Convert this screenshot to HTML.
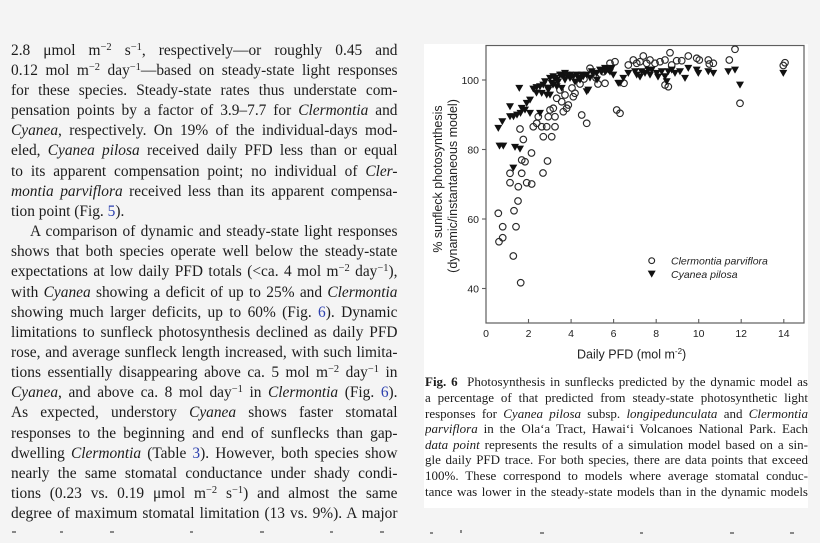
<!DOCTYPE html>
<html><head><meta charset="utf-8">
<style>
html,body{margin:0;padding:0;}
body{width:820px;height:543px;background:#f4f4f4;position:relative;overflow:hidden;font-family:"Liberation Serif",serif;color:#1c1c1c;}
.l{position:absolute;left:11px;width:386.5px;font-size:15.4px;line-height:20px;height:20px;overflow:hidden;text-align:justify;text-align-last:justify;}
.c{position:absolute;left:425px;width:383px;font-size:13px;line-height:15px;height:15px;overflow:hidden;text-align:justify;text-align-last:justify;}
sup{font-size:0.68em;vertical-align:0.48em;line-height:0;}
.b{color:#2b3fae;}
#panel{position:absolute;left:424px;top:44px;width:384px;height:464px;background:#fff;}
svg{position:absolute;left:0;top:0;}
.frag{position:absolute;height:2px;background:#888;}
</style></head><body>
<div id="panel"></div>

<div class="l" style="top:40.7px">2.8 μmol m<sup>−2</sup> s<sup>−1</sup>, respectively—or roughly 0.45 and</div>
<div class="l" style="top:60.85px">0.12 mol m<sup>−2</sup> day<sup>−1</sup>—based on steady-state light responses</div>
<div class="l" style="top:81px">for these species. Steady-state rates thus understate com-</div>
<div class="l" style="top:101.15px">pensation points by a factor of 3.9–7.7 for <i>Clermontia</i> and</div>
<div class="l" style="top:121.3px"><i>Cyanea</i>, respectively. On 19% of the individual-days mod-</div>
<div class="l" style="top:141.45px">eled, <i>Cyanea pilosa</i> received daily PFD less than or equal</div>
<div class="l" style="top:161.6px">to its apparent compensation point; no individual of <i>Cler-</i></div>
<div class="l" style="top:181.75px"><i>montia parviflora</i> received less than its apparent compensa-</div>
<div class="l" style="top:201.9px;text-align:left;text-align-last:left">tion point (Fig. <span class="b">5</span>).</div>
<div class="l" style="top:222.05px;left:30px;width:367.5px">A comparison of dynamic and steady-state light responses</div>
<div class="l" style="top:242.2px">shows that both species operate well below the steady-state</div>
<div class="l" style="top:262.35px">expectations at low daily PFD totals (&lt;ca. 4 mol m<sup>−2</sup> day<sup>−1</sup>),</div>
<div class="l" style="top:282.5px">with <i>Cyanea</i> showing a deficit of up to 25% and <i>Clermontia</i></div>
<div class="l" style="top:302.65px">showing much larger deficits, up to 60% (Fig. <span class="b">6</span>). Dynamic</div>
<div class="l" style="top:322.8px">limitations to sunfleck photosynthesis declined as daily PFD</div>
<div class="l" style="top:342.95px">rose, and average sunfleck length increased, with such limita-</div>
<div class="l" style="top:363.1px">tions essentially disappearing above ca. 5 mol m<sup>−2</sup> day<sup>−1</sup> in</div>
<div class="l" style="top:383.25px"><i>Cyanea</i>, and above ca. 8 mol day<sup>−1</sup> in <i>Clermontia</i> (Fig. <span class="b">6</span>).</div>
<div class="l" style="top:403.4px">As expected, understory <i>Cyanea</i> shows faster stomatal</div>
<div class="l" style="top:423.55px">responses to the beginning and end of sunflecks than gap-</div>
<div class="l" style="top:443.7px">dwelling <i>Clermontia</i> (Table <span class="b">3</span>). However, both species show</div>
<div class="l" style="top:463.85px">nearly the same stomatal conductance under shady condi-</div>
<div class="l" style="top:484px">tions (0.23 vs. 0.19 μmol m<sup>−2</sup> s<sup>−1</sup>) and almost the same</div>
<div class="l" style="top:504.15px">degree of maximum stomatal limitation (13 vs. 9%). A major</div>

<div class="frag" style="left:12px;top:531px;width:4px"></div>
<div class="frag" style="left:60px;top:531px;width:3px"></div>
<div class="frag" style="left:110px;top:531px;width:4px"></div>
<div class="frag" style="left:190px;top:531px;width:3px"></div>
<div class="frag" style="left:260px;top:531px;width:4px"></div>
<div class="frag" style="left:330px;top:531px;width:3px"></div>
<div class="frag" style="left:380px;top:531px;width:4px"></div>
<div class="frag" style="left:430px;top:532px;width:3px"></div>
<div class="frag" style="left:460px;top:530px;width:2px;height:3px"></div>
<div class="frag" style="left:540px;top:532px;width:4px"></div>
<div class="frag" style="left:640px;top:532px;width:3px"></div>
<div class="frag" style="left:730px;top:532px;width:4px"></div>
<div class="frag" style="left:790px;top:532px;width:4px"></div>

<div class="c" style="top:374.3px"><b>Fig. 6</b>&nbsp; Photosynthesis in sunflecks predicted by the dynamic model as</div>
<div class="c" style="top:389.9px">a percentage of that predicted from steady-state photosynthetic light</div>
<div class="c" style="top:405.6px">responses for <i>Cyanea pilosa</i> subsp. <i>longipedunculata</i> and <i>Clermontia</i></div>
<div class="c" style="top:421.2px"><i>parviflora</i> in the Ola‘a Tract, Hawai‘i Volcanoes National Park. Each</div>
<div class="c" style="top:436.8px"><i>data point</i> represents the results of a simulation model based on a sin-</div>
<div class="c" style="top:452.4px">gle daily PFD trace. For both species, there are data points that exceed</div>
<div class="c" style="top:468.1px">100%. These correspond to models where average stomatal conduc-</div>
<div class="c" style="top:483.7px">tance was lower in the steady-state models than in the dynamic models</div>

<svg width="820" height="543" viewBox="0 0 820 543" xmlns="http://www.w3.org/2000/svg">
<defs><path id="t" d="M-4,-3.4 L4,-3.4 L0,3.6 Z" fill="#111"/></defs>
<rect x="486" y="45.5" width="318" height="277.5" fill="none" stroke="#5e5e5e" stroke-width="1.2"/>
<g stroke="#5e5e5e" stroke-width="1.1">
<line x1="482" y1="80" x2="486" y2="80"/>
<line x1="482" y1="149.5" x2="486" y2="149.5"/>
<line x1="482" y1="219" x2="486" y2="219"/>
<line x1="482" y1="288.5" x2="486" y2="288.5"/>
<line x1="528.5" y1="319" x2="528.5" y2="323"/>
<line x1="571.1" y1="319" x2="571.1" y2="323"/>
<line x1="613.6" y1="319" x2="613.6" y2="323"/>
<line x1="656.2" y1="319" x2="656.2" y2="323"/>
<line x1="698.7" y1="319" x2="698.7" y2="323"/>
<line x1="741.2" y1="319" x2="741.2" y2="323"/>
<line x1="783.8" y1="319" x2="783.8" y2="323"/>
</g>
<g font-family="Liberation Sans, sans-serif" font-size="10.5" fill="#222">
<text x="479" y="83.8" text-anchor="end">100</text>
<text x="479" y="153.3" text-anchor="end">80</text>
<text x="479" y="222.8" text-anchor="end">60</text>
<text x="479" y="292.3" text-anchor="end">40</text>
<g text-anchor="middle">
<text x="486" y="336.8">0</text>
<text x="528.5" y="336.8">2</text>
<text x="571.1" y="336.8">4</text>
<text x="613.6" y="336.8">6</text>
<text x="656.2" y="336.8">8</text>
<text x="698.7" y="336.8">10</text>
<text x="741.2" y="336.8">12</text>
<text x="783.8" y="336.8">14</text>
</g>
</g>
<text x="577" y="358.5" font-family="Liberation Sans, sans-serif" font-size="12.5" fill="#222">Daily PFD (mol m<tspan font-size="8" dy="-4.5">-2</tspan><tspan dy="4.5">)</tspan></text>
<text transform="translate(442,179) rotate(-90)" text-anchor="middle" font-family="Liberation Sans, sans-serif" font-size="12.5" fill="#222">% sunfleck photosynthesis</text>
<text transform="translate(457,186) rotate(-90)" text-anchor="middle" font-family="Liberation Sans, sans-serif" font-size="12.5" fill="#222">(dynamic/instantaneous model)</text>

<g fill="none" stroke="#2a2a2a" stroke-width="1.15">
<circle cx="520.7" cy="282.7" r="3.3"/><circle cx="513.3" cy="256" r="3.3"/><circle cx="499" cy="241.7" r="3.3"/><circle cx="502.7" cy="237.7" r="3.3"/>
<circle cx="502.7" cy="226.7" r="3.3"/><circle cx="516" cy="226.7" r="3.3"/><circle cx="498.3" cy="213.3" r="3.3"/><circle cx="514" cy="210.7" r="3.3"/>
<circle cx="518" cy="201" r="3.3"/><circle cx="510" cy="182.7" r="3.3"/><circle cx="518.3" cy="186.7" r="3.3"/><circle cx="526.7" cy="182.7" r="3.3"/>
<circle cx="531.7" cy="184" r="3.3"/><circle cx="510" cy="173.3" r="3.3"/><circle cx="521.7" cy="173.3" r="3.3"/><circle cx="543" cy="173" r="3.3"/>
<circle cx="531.5" cy="153" r="3.3"/><circle cx="521.7" cy="160" r="3.3"/><circle cx="525" cy="161.7" r="3.3"/><circle cx="547.5" cy="161" r="3.3"/>
<circle cx="520" cy="129" r="3.3"/><circle cx="523.3" cy="139.5" r="3.3"/><circle cx="543.3" cy="136.7" r="3.3"/><circle cx="551.7" cy="136.7" r="3.3"/>
<circle cx="538.3" cy="116.7" r="3.3"/><circle cx="536.7" cy="123.3" r="3.3"/><circle cx="533.3" cy="126.7" r="3.3"/><circle cx="541.7" cy="126.7" r="3.3"/>
<circle cx="546.7" cy="126.7" r="3.3"/><circle cx="555" cy="126.7" r="3.3"/><circle cx="548.3" cy="116.7" r="3.3"/><circle cx="555" cy="116.7" r="3.3"/>
<circle cx="553.3" cy="108.3" r="3.3"/><circle cx="566.7" cy="108.3" r="3.3"/><circle cx="563.3" cy="111.7" r="3.3"/><circle cx="550" cy="110" r="3.3"/>
<circle cx="565" cy="95" r="3.3"/><circle cx="573.3" cy="96.7" r="3.3"/><circle cx="561.7" cy="101.7" r="3.3"/><circle cx="568.3" cy="105" r="3.3"/>
<circle cx="556.7" cy="98.3" r="3.3"/><circle cx="575" cy="93.3" r="3.3"/><circle cx="581.7" cy="115" r="3.3"/><circle cx="586.7" cy="123.3" r="3.3"/>
<circle cx="590" cy="68.3" r="3.3"/><circle cx="605" cy="83.3" r="3.3"/><circle cx="603.3" cy="71.7" r="3.3"/><circle cx="610" cy="63.3" r="3.3"/>
<circle cx="615" cy="61.7" r="3.3"/><circle cx="616.7" cy="110" r="3.3"/><circle cx="620" cy="113.3" r="3.3"/><circle cx="624" cy="83.3" r="3.3"/>
<circle cx="628.3" cy="65" r="3.3"/><circle cx="633.3" cy="60" r="3.3"/><circle cx="636.7" cy="63.3" r="3.3"/><circle cx="640" cy="61.7" r="3.3"/>
<circle cx="643.3" cy="56" r="3.3"/><circle cx="646.7" cy="63.3" r="3.3"/><circle cx="650" cy="60" r="3.3"/><circle cx="655" cy="63.3" r="3.3"/>
<circle cx="660" cy="61.7" r="3.3"/><circle cx="665" cy="60" r="3.3"/><circle cx="670" cy="52.7" r="3.3"/><circle cx="671.7" cy="65" r="3.3"/>
<circle cx="676.7" cy="60.7" r="3.3"/><circle cx="681.7" cy="60.7" r="3.3"/><circle cx="688.3" cy="56" r="3.3"/><circle cx="696.7" cy="58.3" r="3.3"/>
<circle cx="699.3" cy="60" r="3.3"/><circle cx="708.3" cy="60" r="3.3"/><circle cx="709.3" cy="64" r="3.3"/><circle cx="713.3" cy="63.3" r="3.3"/>
<circle cx="729.3" cy="60" r="3.3"/><circle cx="735" cy="49.3" r="3.3"/><circle cx="785" cy="62.7" r="3.3"/><circle cx="783.3" cy="65.5" r="3.3"/>
<circle cx="665" cy="85" r="3.3"/><circle cx="668.3" cy="86.7" r="3.3"/><circle cx="740" cy="103.3" r="3.3"/>
<circle cx="560" cy="90" r="3.3"/><circle cx="572" cy="88" r="3.3"/><circle cx="580" cy="84" r="3.3"/><circle cx="596" cy="78" r="3.3"/>
<circle cx="584" cy="79" r="3.3"/><circle cx="598" cy="84" r="3.3"/>
<circle cx="651.7" cy="260.7" r="2.9"/>
</g>

<g>
<use href="#t" x="498.3" y="128.3"/><use href="#t" x="502.3" y="121.7"/><use href="#t" x="499.5" y="146"/><use href="#t" x="503.3" y="146"/>
<use href="#t" x="515" y="147.3"/><use href="#t" x="520" y="149"/><use href="#t" x="513.3" y="168"/><use href="#t" x="510" y="106.7"/>
<use href="#t" x="519.3" y="88.3"/><use href="#t" x="510" y="116.7"/><use href="#t" x="513.5" y="116.7"/><use href="#t" x="517" y="115"/>
<use href="#t" x="520.5" y="113.3"/><use href="#t" x="521.7" y="108.3"/><use href="#t" x="525" y="110"/><use href="#t" x="526.7" y="103.3"/>
<use href="#t" x="530" y="100"/><use href="#t" x="530" y="113.3"/><use href="#t" x="540" y="113.3"/><use href="#t" x="533.3" y="89"/>
<use href="#t" x="536.5" y="87.5"/><use href="#t" x="536.5" y="93"/><use href="#t" x="541.7" y="93.3"/><use href="#t" x="546.7" y="95"/>
<use href="#t" x="548.3" y="90"/><use href="#t" x="550" y="95"/><use href="#t" x="540" y="86.7"/><use href="#t" x="543.3" y="85"/>
<use href="#t" x="545" y="81.7"/><use href="#t" x="551.7" y="83.3"/><use href="#t" x="550" y="78.3"/><use href="#t" x="553.3" y="76.7"/>
<use href="#t" x="556.7" y="80"/><use href="#t" x="556.7" y="86.7"/><use href="#t" x="555" y="78.3"/><use href="#t" x="560" y="75"/>
<use href="#t" x="561.7" y="88.3"/><use href="#t" x="561.7" y="75"/><use href="#t" x="563.3" y="76.7"/><use href="#t" x="565" y="73.3"/>
<use href="#t" x="566.7" y="75"/><use href="#t" x="570" y="78.3"/><use href="#t" x="570" y="75"/><use href="#t" x="573.3" y="76.7"/>
<use href="#t" x="576.7" y="75"/><use href="#t" x="578.3" y="78.3"/><use href="#t" x="581.7" y="75"/><use href="#t" x="583.3" y="76.7"/>
<use href="#t" x="586.7" y="75"/><use href="#t" x="586.7" y="91.7"/><use href="#t" x="588.3" y="90"/><use href="#t" x="591.7" y="71.7"/>
<use href="#t" x="593.3" y="73.3"/><use href="#t" x="596.7" y="73.3"/><use href="#t" x="600" y="70"/><use href="#t" x="601.7" y="71.7"/>
<use href="#t" x="605" y="68.3"/><use href="#t" x="606.7" y="70"/><use href="#t" x="608.3" y="70"/><use href="#t" x="611.7" y="68.3"/>
<use href="#t" x="618.3" y="83.3"/><use href="#t" x="548" y="88"/><use href="#t" x="553" y="85"/><use href="#t" x="558" y="82"/>
<use href="#t" x="565" y="80"/><use href="#t" x="575" y="82"/><use href="#t" x="580" y="80"/><use href="#t" x="590" y="78"/>
<use href="#t" x="597" y="80"/><use href="#t" x="605" y="71.7"/><use href="#t" x="610" y="72"/><use href="#t" x="613.3" y="75"/>
<use href="#t" x="620" y="83.3"/><use href="#t" x="623.3" y="78.3"/><use href="#t" x="628.3" y="73.3"/><use href="#t" x="635" y="71.7"/>
<use href="#t" x="636.7" y="75"/><use href="#t" x="641.7" y="71.7"/><use href="#t" x="645" y="73.3"/><use href="#t" x="648.3" y="70"/>
<use href="#t" x="651.7" y="70"/><use href="#t" x="656.7" y="73.3"/><use href="#t" x="661.7" y="71.7"/><use href="#t" x="665" y="76.7"/>
<use href="#t" x="666.7" y="81.7"/><use href="#t" x="668.3" y="71.7"/><use href="#t" x="671.7" y="70"/><use href="#t" x="675" y="73.3"/>
<use href="#t" x="680" y="71.7"/><use href="#t" x="685" y="78.3"/><use href="#t" x="688.3" y="68.3"/><use href="#t" x="696.7" y="70"/>
<use href="#t" x="698.3" y="73.3"/><use href="#t" x="708.3" y="71.7"/><use href="#t" x="713.3" y="73.3"/><use href="#t" x="728.3" y="71.7"/>
<use href="#t" x="735" y="70"/><use href="#t" x="740" y="85"/><use href="#t" x="783.3" y="73.3"/><use href="#t" x="640" y="77"/>
<use href="#t" x="650" y="75"/><use href="#t" x="658" y="77"/>
<use href="#t" x="651.7" y="274"/>
</g>
<g font-family="Liberation Sans, sans-serif" font-size="10.5" font-style="italic" fill="#222">
<text x="671" y="264.5">Clermontia parviflora</text>
<text x="671" y="277.8">Cyanea pilosa</text>
</g>
</svg>
</body></html>
